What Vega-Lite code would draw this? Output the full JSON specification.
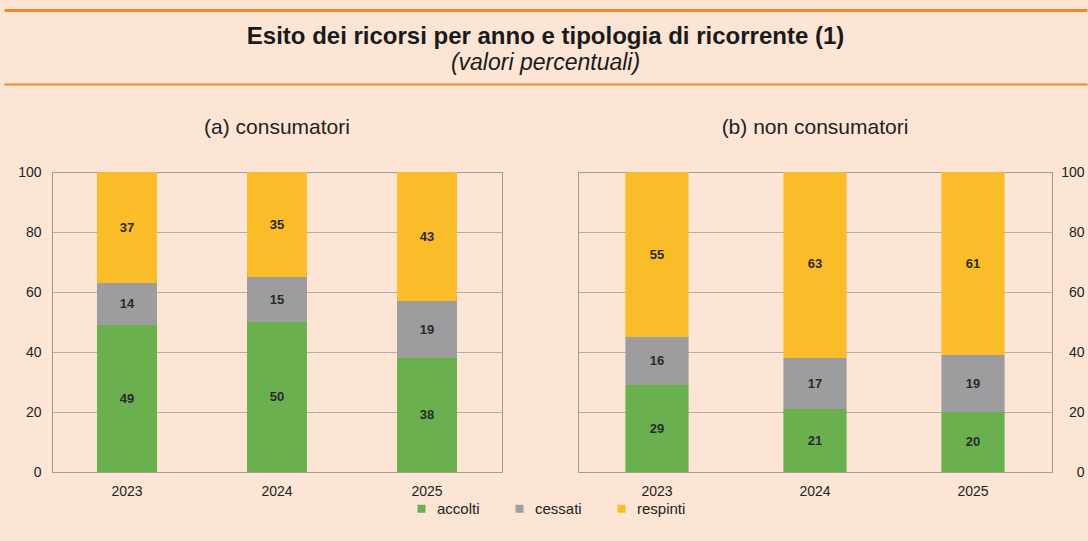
{
  "$schema": "https://vega.github.io/schema/vega-lite/v6.json",
  "background": "#FCE5D4",
  "padding": {"left": 5, "top": 10, "right": 5, "bottom": 24},
  "config": {
    "font": "Liberation Sans",
    "view": {"stroke": "#9a9a9a", "strokeWidth": 1},
    "axis": {"labelFont": "Liberation Sans", "labelColor": "#222222", "labelFontSize": 14, "ticks": false, "domain": false, "grid": false, "title": null},
    "title": {"font": "Liberation Sans", "fontSize": 21, "fontWeight": "normal", "color": "#222222", "anchor": "middle", "offset": 27},
    "legend": {"orient": "none", "legendX": 362, "legendY": 491, "direction": "horizontal", "title": null, "symbolType": "square", "symbolSize": 64, "symbolStrokeWidth": 0, "labelFontSize": 15, "labelColor": "#222222", "labelFont": "Liberation Sans", "columnPadding": 32, "labelOffset": 8}
  },
  "datasets": {
    "bars": [
      {"panel": "a", "year": "2023", "cat": "accolti", "value": 49},
      {"panel": "a", "year": "2023", "cat": "cessati", "value": 14},
      {"panel": "a", "year": "2023", "cat": "respinti", "value": 37},
      {"panel": "a", "year": "2024", "cat": "accolti", "value": 50},
      {"panel": "a", "year": "2024", "cat": "cessati", "value": 15},
      {"panel": "a", "year": "2024", "cat": "respinti", "value": 35},
      {"panel": "a", "year": "2025", "cat": "accolti", "value": 38},
      {"panel": "a", "year": "2025", "cat": "cessati", "value": 19},
      {"panel": "a", "year": "2025", "cat": "respinti", "value": 43},
      {"panel": "b", "year": "2023", "cat": "accolti", "value": 29},
      {"panel": "b", "year": "2023", "cat": "cessati", "value": 16},
      {"panel": "b", "year": "2023", "cat": "respinti", "value": 55},
      {"panel": "b", "year": "2024", "cat": "accolti", "value": 21},
      {"panel": "b", "year": "2024", "cat": "cessati", "value": 17},
      {"panel": "b", "year": "2024", "cat": "respinti", "value": 63},
      {"panel": "b", "year": "2025", "cat": "accolti", "value": 20},
      {"panel": "b", "year": "2025", "cat": "cessati", "value": 19},
      {"panel": "b", "year": "2025", "cat": "respinti", "value": 61}
    ]
  },
  "spacing": 32,
  "vconcat": [
    {
      "width": 1035,
      "height": 74,
      "view": {"stroke": null},
      "layer": [
        {
          "data": {"values": [{"t": "Esito dei ricorsi per anno e tipologia di ricorrente (1)"}]},
          "mark": {"type": "text", "fontSize": 24, "fontWeight": "bold", "color": "#1a1a1a", "baseline": "middle", "align": "center"},
          "encoding": {
            "x": {"datum": 0.5, "type": "quantitative", "scale": {"domain": [0, 1], "range": [-48, 1035]}, "axis": {"orient": "top", "domain": true, "domainColor": "#EE8A2A", "domainWidth": 3, "labels": false, "ticks": false, "grid": false, "title": null}},
            "y": {"datum": 1, "type": "quantitative", "scale": {"domain": [-0.1, 2.95], "reverse": true}, "axis": null},
            "text": {"field": "t"}
          }
        },
        {
          "data": {"values": [{"t": "(valori percentuali)"}]},
          "mark": {"type": "text", "fontSize": 23, "fontStyle": "italic", "color": "#1a1a1a", "baseline": "middle", "align": "center", "dy": 2},
          "encoding": {
            "x": {"datum": 0.5, "type": "quantitative", "scale": {"domain": [0, 1], "range": [-48, 1035]}, "axis": {"orient": "bottom", "domain": true, "domainColor": "#EE8A2A", "domainWidth": 2, "labels": false, "ticks": false, "grid": false, "title": null}},
            "y": {"datum": 2, "type": "quantitative", "scale": {"domain": [-0.1, 2.95], "reverse": true}, "axis": null},
            "text": {"field": "t"}
          }
        }
      ],
      "resolve": {"axis": {"x": "independent"}}
    },
    {
      "spacing": 74,
      "hconcat": [
        {
          "width": 450,
          "height": 300,
          "title": "(a) consumatori",
          "data": {"name": "bars"},
          "transform": [
            {"filter": {"field": "panel", "equal": "a"}},
            {"stack": "value", "groupby": ["year"], "sort": [{"field": "cat", "order": "ascending"}], "as": ["v0", "v1"]},
            {"calculate": "(datum.v0 + datum.v1) / 2", "as": "mid"}
          ],
          "encoding": {
            "x": {"field": "year", "type": "ordinal", "scale": {"paddingInner": 0.6, "paddingOuter": 0.3}, "axis": {"labelAngle": 0, "labelPadding": 12}}
          },
          "layer": [
            {
              "mark": {"type": "bar"},
              "encoding": {
                "y": {"field": "v0", "type": "quantitative", "scale": {"domain": [0, 100], "clamp": true}, "axis": {"orient": "left", "values": [0, 20, 40, 60, 80, 100], "grid": true, "gridColor": "#a0a0a0", "gridWidth": 0.8, "labelPadding": 11, "minExtent": 46, "title": null}},
                "y2": {"field": "v1"},
                "color": {"field": "cat", "type": "nominal", "scale": {"domain": ["accolti", "cessati", "respinti"], "range": ["#6AB04F", "#9D9D9F", "#FBBC29"]}}
              }
            },
            {
              "mark": {"type": "text", "fontSize": 13, "fontWeight": "bold", "color": "#2a2a2a", "baseline": "middle"},
              "encoding": {
                "y": {"field": "mid", "type": "quantitative"},
                "text": {"field": "value"}
              }
            }
          ]
        },
        {
          "width": 474,
          "height": 300,
          "title": "(b) non consumatori",
          "data": {"name": "bars"},
          "transform": [
            {"filter": {"field": "panel", "equal": "b"}},
            {"stack": "value", "groupby": ["year"], "sort": [{"field": "cat", "order": "ascending"}], "as": ["v0", "v1"]},
            {"calculate": "(datum.v0 + datum.v1) / 2", "as": "mid"}
          ],
          "encoding": {
            "x": {"field": "year", "type": "ordinal", "scale": {"paddingInner": 0.6, "paddingOuter": 0.3}, "axis": {"labelAngle": 0, "labelPadding": 12}}
          },
          "layer": [
            {
              "mark": {"type": "bar"},
              "encoding": {
                "y": {"field": "v0", "type": "quantitative", "scale": {"domain": [0, 100], "clamp": true}, "axis": {"orient": "right", "values": [0, 20, 40, 60, 80, 100], "grid": true, "gridColor": "#a0a0a0", "gridWidth": 0.8, "labelAlign": "right", "labelPadding": 32, "title": null}},
                "y2": {"field": "v1"},
                "color": {"field": "cat", "type": "nominal", "scale": {"domain": ["accolti", "cessati", "respinti"], "range": ["#6AB04F", "#9D9D9F", "#FBBC29"]}}
              }
            },
            {
              "mark": {"type": "text", "fontSize": 13, "fontWeight": "bold", "color": "#2a2a2a", "baseline": "middle"},
              "encoding": {
                "y": {"field": "mid", "type": "quantitative"},
                "text": {"field": "value"}
              }
            }
          ]
        }
      ]
    }
  ]
}
